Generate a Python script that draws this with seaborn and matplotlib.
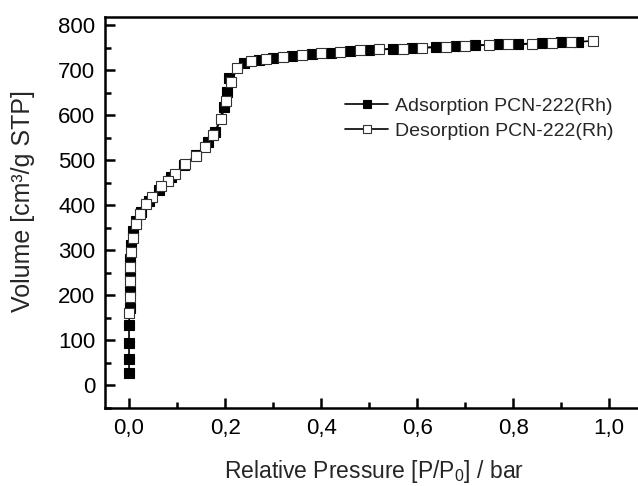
import numpy as np
import matplotlib
matplotlib.use("Agg")
import matplotlib.pyplot as plt
import seaborn as sns
from matplotlib.ticker import MultipleLocator, FuncFormatter

# adsorption branch (filled squares)
ads_p = [0.000, 0.000, 0.000, 0.000, 0.001, 0.001, 0.002, 0.003, 0.005, 0.008,
         0.014, 0.025, 0.042, 0.062, 0.088, 0.115, 0.140, 0.165, 0.180, 0.197,
         0.203, 0.209, 0.240, 0.270, 0.300, 0.340, 0.380, 0.420, 0.460, 0.500,
         0.550, 0.590, 0.640, 0.680, 0.720, 0.770, 0.810, 0.860, 0.900, 0.935]
ads_v = [27, 58, 95, 135, 173, 213, 247, 280, 312, 342,
         365, 385, 410, 433, 462, 490, 512, 540, 562, 618,
         651, 682, 716, 722, 727, 731, 735, 739, 742, 745,
         747, 749, 751, 753, 755, 757, 758, 760, 762, 763]

# desorption branch (open squares), from high to low pressure
des_p = [0.967, 0.920, 0.880, 0.840, 0.790, 0.750, 0.700, 0.660, 0.610, 0.570,
         0.520, 0.480, 0.440, 0.400, 0.360, 0.320, 0.285, 0.255, 0.225, 0.212,
         0.202, 0.192, 0.175, 0.158, 0.139, 0.117, 0.096, 0.081, 0.067, 0.048,
         0.035, 0.023, 0.015, 0.008, 0.005, 0.003, 0.002, 0.001, 0.000]
des_v = [765, 762, 761, 759, 757, 756, 754, 752, 750, 748,
         746, 744, 741, 737, 733, 729, 725, 720, 704, 673,
         631, 591, 556, 529, 509, 491, 469, 455, 442, 418,
         402, 380, 358, 327, 296, 264, 231, 196, 162]

sns.set_style("ticks")
plt.rcParams["font.family"] = ["Liberation Sans", "DejaVu Sans"]
plt.rcParams["mathtext.fontset"] = "custom"
plt.rcParams["mathtext.rm"] = "Liberation Sans"
plt.rcParams["mathtext.it"] = "Liberation Sans"

fig = plt.figure(figsize=(6.38, 4.86), dpi=100)
ax = fig.add_axes([0.1646, 0.1605, 0.843, 0.8045])

sns.lineplot(x=ads_p, y=ads_v, sort=False, estimator=None, ax=ax,
             color="black", lw=1.2, marker="s", markersize=7,
             markerfacecolor="black", markeredgecolor="black",
             markeredgewidth=0.8, label="Adsorption PCN-222(Rh)")
sns.lineplot(x=des_p, y=des_v, sort=False, estimator=None, ax=ax,
             color="black", lw=1.2, marker="s", markersize=7,
             markerfacecolor="white", markeredgecolor="#333333",
             markeredgewidth=0.8, label="Desorption PCN-222(Rh)")

ax.set_xlim(-0.05, 1.07)
ax.set_ylim(-50, 818)
ax.xaxis.set_major_locator(MultipleLocator(0.2))
ax.xaxis.set_minor_locator(MultipleLocator(0.1))
ax.yaxis.set_major_locator(MultipleLocator(100))
ax.yaxis.set_minor_locator(MultipleLocator(50))
ax.xaxis.set_major_formatter(FuncFormatter(lambda v, p: f"{v:.1f}".replace(".", ",")))
ax.tick_params(which="both", direction="in", width=1.8, color="black",
               labelcolor="black", labelsize=16, top=False, right=False)
ax.tick_params(which="major", length=7, pad=7)
ax.tick_params(which="minor", length=4)

for s in ax.spines.values():
    s.set_linewidth(1.8)
    s.set_color("black")
ax.spines["right"].set_visible(False)

ax.set_xlabel("Relative Pressure [P/P$_0$] / bar", fontsize=16.5, labelpad=14)
ax.set_ylabel("Volume [cm³/g STP]", fontsize=18)
ax.yaxis.set_label_coords(-0.13, 0.53)

ax.legend(loc="upper left", bbox_to_anchor=(0.447, 0.795), frameon=False,
          fontsize=14, handlelength=2.2, handletextpad=0.35, labelspacing=0.4,
          markerscale=0.85, borderaxespad=0, borderpad=0)

fig.savefig("out.png", dpi=100)
